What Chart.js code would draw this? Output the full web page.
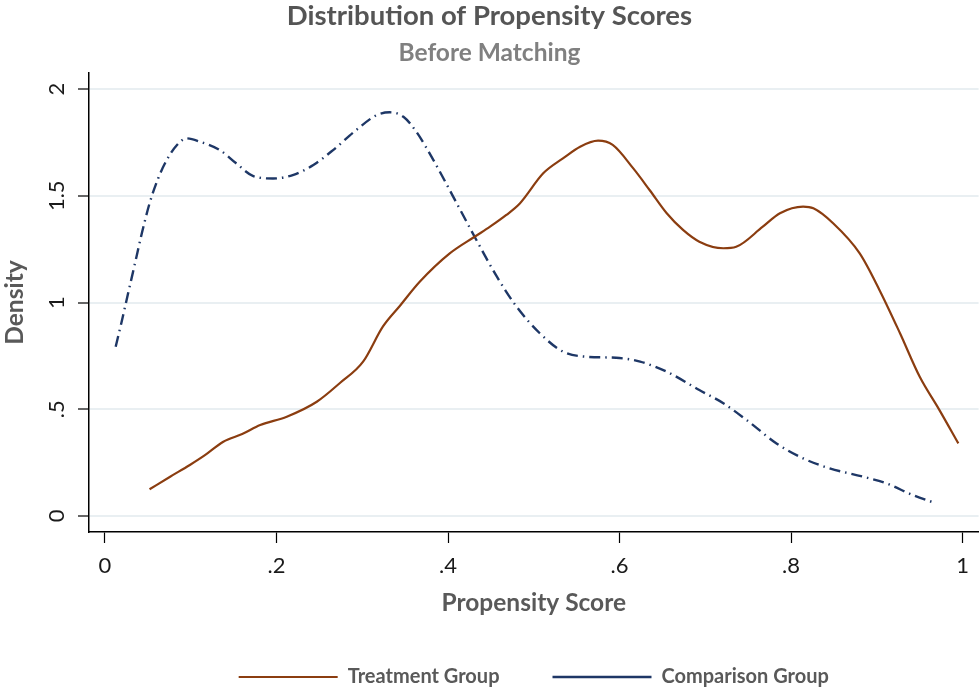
<!DOCTYPE html>
<html>
<head>
<meta charset="utf-8">
<script src="https://cdn.jsdelivr.net/npm/chart.js@4"></script>
<style>
  body { margin: 0; background: #fff; }
</style>
</head>
<body>
<canvas id="psChart" width="979" height="691"></canvas>
<script>
// kernel density
const treatX = [0.052, 0.076, 0.099, 0.117, 0.138, 0.160, 0.181, 0.212, 0.247, 0.274, 0.301, 0.324, 0.344, 0.367, 0.402, 0.431, 0.449, 0.468, 0.484, 0.511, 0.534, 0.554, 0.575, 0.592, 0.616, 0.635, 0.655, 0.674, 0.693, 0.721, 0.736, 0.767, 0.787, 0.814, 0.826, 0.849, 0.880, 0.903, 0.927, 0.950, 0.973, 0.995];
const treatY = [0.125, 0.184, 0.239, 0.286, 0.348, 0.384, 0.426, 0.465, 0.535, 0.623, 0.723, 0.887, 0.985, 1.097, 1.230, 1.308, 1.355, 1.410, 1.465, 1.605, 1.675, 1.730, 1.758, 1.738, 1.628, 1.527, 1.418, 1.340, 1.285, 1.254, 1.261, 1.355, 1.418, 1.449, 1.441, 1.371, 1.230, 1.059, 0.856, 0.652, 0.496, 0.340];

const compX = [0.0125, 0.019, 0.027, 0.035, 0.043, 0.052, 0.062, 0.072, 0.084, 0.095, 0.111, 0.134, 0.153, 0.173, 0.196, 0.219, 0.243, 0.266, 0.293, 0.317, 0.332, 0.348, 0.363, 0.383, 0.406, 0.431, 0.457, 0.480, 0.507, 0.534, 0.561, 0.596, 0.624, 0.655, 0.693, 0.721, 0.748, 0.783, 0.814, 0.845, 0.884, 0.911, 0.942, 0.967];
const compY = [0.793, 0.902, 1.043, 1.183, 1.324, 1.464, 1.581, 1.667, 1.738, 1.769, 1.753, 1.714, 1.652, 1.592, 1.581, 1.597, 1.644, 1.714, 1.808, 1.878, 1.891, 1.870, 1.800, 1.667, 1.496, 1.308, 1.121, 0.980, 0.856, 0.770, 0.746, 0.741, 0.723, 0.676, 0.590, 0.528, 0.450, 0.340, 0.270, 0.223, 0.184, 0.153, 0.098, 0.062];

const xTickVals = [0, 0.2, 0.4, 0.6, 0.8, 1];
const xTickLabels = ['0', '.2', '.4', '.6', '.8', '1'];
const yTickVals = [0, 0.5, 1, 1.5, 2];
const yTickLabels = ['0', '.5', '1', '1.5', '2'];

const FONT = 'Lato';

function toPoints(xs, ys) {
  return xs.map((x, i) => ({ x: x, y: ys[i] }));
}

new Chart(document.getElementById('psChart'), {
  type: 'line',
  data: {
    datasets: [
      {
        label: 'Treatment Group',
        data: toPoints(treatX, treatY),
        borderColor: '#8b3d10',
        borderWidth: 2.2,
        pointRadius: 0,
        cubicInterpolationMode: 'monotone',
        fill: false
      },
      {
        label: 'Comparison Group',
        data: toPoints(compX, compY),
        borderColor: '#1e3766',
        borderWidth: 2.4,
        borderDash: [11, 5, 1.5, 5],
        pointRadius: 0,
        cubicInterpolationMode: 'monotone',
        fill: false
      }
    ]
  },
  options: {
    responsive: false,
    animation: false,
    layout: { padding: 0 },
    plugins: {
      title: {
        display: true,
        text: 'Distribution of Propensity Scores',
        color: '#555555',
        font: { family: FONT, size: 27.5, weight: 'bold', lineHeight: 1.2 },
        padding: { top: 0, bottom: 0 }
      },
      subtitle: {
        display: true,
        text: 'Before Matching',
        color: '#808080',
        font: { family: FONT, size: 24.5, weight: 'bold', lineHeight: 1.2 },
        padding: { top: 5.3, bottom: 5.3 }
      },
      legend: {
        position: 'bottom',
        fullSize: false,
        maxHeight: 77,
        labels: {
          usePointStyle: true,
          pointStyle: 'line',
          pointStyleWidth: 99,
          padding: 53,
          color: '#595959',
          font: { family: FONT, size: 20, weight: 'bold' }
        }
      },
      tooltip: { enabled: false }
    },
    scales: {
      x: {
        type: 'linear',
        min: -0.0186,
        max: 1.0186,
        afterBuildTicks: (axis) => { axis.ticks = xTickVals.map(v => ({ value: v })); },
        afterFit: (axis) => { axis.height = 82; },
        ticks: {
          callback: (v, i) => xTickLabels[i],
          color: '#1a1a1a',
          padding: 10,
          maxRotation: 0,
          font: { family: FONT, size: 22 }
        },
        grid: {
          drawOnChartArea: false,
          drawTicks: true,
          tickLength: 11,
          tickColor: '#000',
          tickWidth: 1.2
        },
        border: { color: '#000', width: 1.5 },
        title: {
          display: true,
          text: 'Propensity Score',
          color: '#595959',
          font: { family: FONT, size: 24.5, weight: 'bold', lineHeight: 1.2 },
          padding: { top: 0, bottom: -4 }
        }
      },
      y: {
        type: 'linear',
        min: -0.075,
        max: 2.075,
        afterBuildTicks: (axis) => { axis.ticks = yTickVals.map(v => ({ value: v })); },
        afterFit: (axis) => { axis.width = 89; },
        ticks: {
          callback: (v, i) => yTickLabels[i],
          color: '#1a1a1a',
          padding: 5.5,
          minRotation: 90,
          maxRotation: 90,
          crossAlign: 'center',
          font: { family: FONT, size: 22 }
        },
        grid: {
          color: '#e9eff2',
          lineWidth: 2,
          drawTicks: true,
          tickLength: 11,
          tickColor: '#000',
          tickWidth: 1.2
        },
        border: { color: '#000', width: 1.5 },
        title: {
          display: true,
          text: 'Density',
          color: '#595959',
          font: { family: FONT, size: 24.5, weight: 'bold', lineHeight: 1.2 },
          padding: { top: 0, bottom: 0 }
        }
      }
    }
  }
});
</script>
</body>
</html>
